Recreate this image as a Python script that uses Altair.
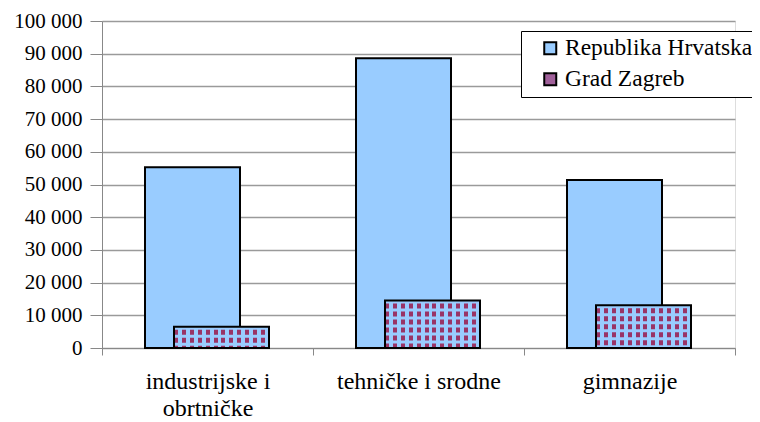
import altair as alt
import pandas as pd

# ---- data ----
categories = ["industrijske i\nobrtničke", "tehničke i srodne", "gimnazije"]
series = ["Republika Hrvatska", "Grad Zagreb"]
hrvatska = [55300, 88600, 51400]
zagreb = [6500, 14500, 13100]
y_ticks = [0, 10000, 20000, 30000, 40000, 50000, 60000, 70000, 80000, 90000, 100000]

rows = []
for c, v in zip(categories, hrvatska):
    rows.append({"kategorija": c, "serija": series[0], "vrijednost": v})
for c, v in zip(categories, zagreb):
    rows.append({"kategorija": c, "serija": series[1], "vrijednost": v})
df = pd.DataFrame(rows)

BLUE = "#99CCFF"
MAROON = "#993366"
FONT = "Times New Roman, Liberation Serif, DejaVu Serif, serif"
BAR_W = 95
OFF_RH = -15
OFF_ZG = 14

# vertical stripes (gradient) + dashed blue overlay rows -> checkered look
stops = []
n = 12
for i in range(n):
    a = i / n
    b = (i + 0.5) / n
    c = (i + 1) / n
    stops += [
        alt.GradientStop(offset=a, color=MAROON),
        alt.GradientStop(offset=b, color=MAROON),
        alt.GradientStop(offset=b, color=BLUE),
        alt.GradientStop(offset=c, color=BLUE),
    ]
pattern = alt.LinearGradient(gradient="linear", stops=stops, x1=0, x2=1, y1=0, y2=0)

x_enc = alt.X(
    "kategorija:N",
    sort=categories,
    scale=alt.Scale(paddingInner=0, paddingOuter=0),
    axis=alt.Axis(
        title=None,
        labelAngle=0,
        tickBand="extent",
        labelExpr="split(datum.label, '\\n')",
        labelFontSize=24,
        labelLineHeight=27,
        labelPadding=14,
        tickSize=7,
        grid=False,
    ),
)
y_enc = alt.Y(
    "vrijednost:Q",
    scale=alt.Scale(domain=[0, 100000], nice=False),
    axis=alt.Axis(
        title=None,
        values=y_ticks,
        labelExpr="replace(format(datum.value, ','), ',', ' ')",
        labelFontSize=21,
        tickSize=12,
        labelPadding=8,
        grid=True,
        gridColor="#9a9a9a",
        gridWidth=1.3,
    ),
)

base = alt.Chart(df).encode(x=x_enc, y=y_enc)

blue = base.transform_filter(alt.datum.serija == series[0]).mark_bar(
    size=BAR_W, xOffset=OFF_RH, stroke="black", strokeWidth=2
).encode(
    color=alt.Color(
        "serija:N",
        scale=alt.Scale(domain=series, range=[BLUE, "#A0609A"]),
        legend=alt.Legend(
            title=None,
            orient="none",
            legendX=419,
            legendY=10,
            padding=5.5,
            fillColor="white",
            strokeColor="black",
            labelFont=FONT,
            labelFontSize=23.5,
            labelColor="black",
            labelLimit=400,
            symbolType="square",
            symbolSize=144,
            symbolStrokeColor="black",
            symbolStrokeWidth=2,
            symbolOpacity=1,
            symbolOffset=12,
            labelOffset=3,
            rowPadding=6,
        ),
    )
)

zg_base = base.transform_filter(alt.datum.serija == series[1])

zg_fill = zg_base.mark_bar(size=BAR_W, xOffset=OFF_ZG, fill=pattern, strokeWidth=0)

zg_rows = zg_base.mark_rule(
    xOffset=OFF_ZG, strokeWidth=BAR_W, strokeDash=[3, 5], color=BLUE, strokeCap="butt"
).encode(y2=alt.datum(0))

zg_outline = zg_base.mark_bar(
    size=BAR_W, xOffset=OFF_ZG, fillOpacity=0, fill="white", stroke="black", strokeWidth=2
)

chart = (
    alt.layer(blue, zg_fill, zg_rows, zg_outline)
    .properties(
        width=633,
        height=327,
        autosize=alt.AutoSizeParams(type="none"),
        padding={"left": 94, "top": 13, "right": 17, "bottom": 74},
        background="white",
    )
    .configure_view(stroke="#8a8a8a", strokeWidth=1.5)
    .configure_axis(
        labelFont=FONT,
        labelColor="black",
        domainColor="#222222",
        domainWidth=1.5,
        tickColor="#222222",
        tickWidth=1.5,
    )
    .configure_legend(labelFont=FONT)
    .configure(font=FONT)
)

chart.save("out.html", embed_options={"renderer": "svg", "actions": False})
